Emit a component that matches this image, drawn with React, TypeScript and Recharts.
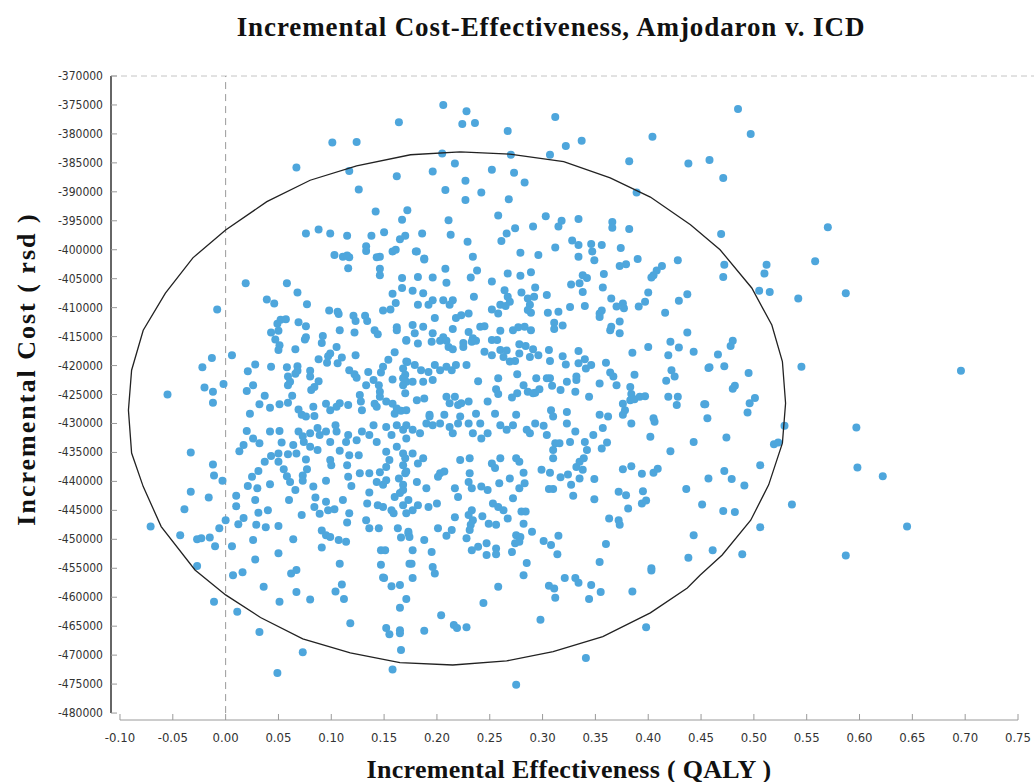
import { ScatterChart, Scatter, XAxis, YAxis, ReferenceLine } from "recharts";

// Tick labels
const qalyTicks = [
  -0.1, -0.05, 0, 0.05, 0.1, 0.15, 0.2, 0.25, 0.3, 0.35, 0.4, 0.45, 0.5, 0.55, 0.6, 0.65, 0.7, 0.75,
];
const costTicks = [
  -480000, -475000, -470000, -465000, -460000, -455000, -450000, -445000, -440000, -435000, -430000,
  -425000, -420000, -415000, -410000, -405000, -400000, -395000, -390000, -385000, -380000, -375000, -370000,
];

// [incremental QALY, incremental cost]
const upperPoints = [
  [0.164, -378000], [0.101, -381500], [0.124, -381400], [0.067, -385800], [0.117, -386400], [0.162, -387300],
  [0.126, -389600], [0.142, -393400], [0.172, -393200], [0.167, -394800], [0.076, -397200], [0.088, -396500],
  [0.099, -397200], [0.115, -397600], [0.138, -397600], [0.15, -397000], [0.165, -398200], [0.17, -397600],
  [0.133, -399400], [0.133, -400200], [0.103, -400900], [0.111, -401200], [0.115, -401000], [0.117, -401300],
  [0.146, -401200], [0.158, -400300], [0.161, -400000],
  [0.206, -375000], [0.228, -376100], [0.224, -378300], [0.236, -378100], [0.312, -377100], [0.267, -379500],
  [0.404, -380500], [0.322, -382100], [0.337, -381200], [0.307, -383600], [0.27, -383600], [0.205, -383400],
  [0.382, -384700], [0.438, -385100], [0.458, -384500], [0.389, -390100], [0.217, -385100], [0.196, -386500],
  [0.252, -386200], [0.273, -386700], [0.283, -388400], [0.227, -388100], [0.208, -389700], [0.242, -390100],
  [0.227, -391400], [0.268, -391300], [0.258, -394100], [0.303, -394200], [0.318, -395000], [0.315, -396000],
  [0.334, -394700], [0.366, -395200], [0.366, -396200], [0.382, -396400], [0.211, -394900], [0.213, -397400],
  [0.186, -397200], [0.274, -396300], [0.291, -396000], [0.266, -397200], [0.261, -398500], [0.229, -398600],
  [0.181, -400300], [0.188, -401500], [0.234, -401200], [0.279, -400500], [0.296, -400900], [0.312, -399600],
  [0.328, -398400], [0.334, -399200], [0.346, -399000], [0.347, -400300], [0.356, -399200], [0.374, -399700],
  [0.334, -401200], [0.349, -401800], [0.39, -401600], [0.428, -401800],
];

const outerRightPoints = [
  [0.485, -375700], [0.497, -380000], [0.471, -387600], [0.57, -396100], [0.469, -397300], [0.558, -402000],
  [0.472, -402600], [0.512, -402600], [0.471, -404700], [0.51, -404100], [0.505, -407100], [0.515, -407300],
  [0.542, -408400], [0.587, -407500], [0.48, -415700], [0.478, -416600], [0.466, -418100], [0.458, -420300],
  [0.472, -420100], [0.495, -421300], [0.545, -420200], [0.696, -420900], [0.482, -423500], [0.48, -424000],
  [0.501, -425600], [0.496, -426500], [0.453, -426700], [0.494, -428100], [0.456, -429100],
  [0.529, -430400], [0.597, -430700], [0.474, -432400], [0.519, -433600], [0.523, -433300], [0.506, -437200],
  [0.598, -437600], [0.622, -439100], [0.472, -438200], [0.457, -439500], [0.479, -439600], [0.491, -440700],
  [0.451, -444000], [0.471, -445100], [0.482, -445300], [0.536, -444000], [0.506, -447900], [0.645, -447800],
  [0.461, -451900], [0.489, -452600], [0.587, -452800],
];

const leftMiddlePoints = [
  [0.019, -405800], [-0.008, -410300], [0.058, -405800], [0.068, -407400], [0.039, -408600], [0.046, -409300],
  [0.077, -409400], [0.098, -410500], [0.106, -410700], [0.107, -411100], [0.121, -411400], [0.123, -412300],
  [0.132, -411400], [0.134, -412300], [0.149, -410500], [0.156, -410300], [0.161, -409200], [0.158, -407600],
  [0.167, -406600], [0.167, -404900], [0.146, -404400], [0.146, -403300], [0.143, -401300], [0.116, -403200],
  [0.052, -412100], [0.057, -412000], [0.049, -412800], [0.043, -414300], [0.05, -414000], [0.069, -412500],
  [0.076, -413200], [0.047, -415500], [0.051, -416500], [0.05, -417300], [0.066, -417200], [0.076, -415100],
  [0.075, -415500], [0.092, -414900], [0.091, -416100], [0.108, -413900], [0.122, -414300], [0.105, -416800],
  [0.099, -417900], [0.097, -418400], [0.11, -418600], [0.106, -419600], [0.088, -418900], [0.096, -419500],
  [0.123, -418200], [0.141, -413900], [0.144, -414600], [0.162, -413400], [0.162, -413900], [0.16, -417700],
  [0.154, -419000], [0.171, -415700], [0.172, -419400],
  [0.006, -418200], [-0.013, -418700], [-0.022, -420300], [0.028, -419800], [0.021, -421000], [0.043, -420200],
  [0.058, -420300], [0.068, -420100], [0.068, -420900], [0.066, -421400], [0.059, -421900], [0.061, -422800],
  [0.059, -423400], [0.08, -420900], [0.08, -421900], [0.088, -422700], [0.084, -423700], [0.081, -424200],
  [0.117, -420800], [0.122, -421500], [0.124, -422100], [0.135, -421100], [0.14, -422500], [0.149, -420200],
  [0.147, -421200], [0.158, -422400], [0.168, -420500], [0.17, -421600], [0.171, -422800], [0.168, -423400],
  [0.133, -423400], [0.145, -423400], [0.146, -424500], [0.146, -425400], [0.127, -425100], [0.128, -426200],
  [-0.02, -423800], [-0.012, -424500], [-0.012, -426400], [-0.002, -423200], [-0.055, -425000], [0.02, -424400],
  [0.026, -423400], [0.037, -425200], [0.032, -426700], [0.042, -427300], [0.051, -426700], [0.059, -426400],
  [0.063, -425200], [0.023, -428300], [0.069, -427600], [0.072, -428500], [0.076, -428800], [0.083, -427100],
  [0.084, -428700], [0.095, -426600], [0.099, -427700], [0.105, -427100], [0.108, -426500], [0.116, -426800],
  [0.129, -427700], [0.141, -426600], [0.143, -427100], [0.152, -426200], [0.158, -426600], [0.162, -427400],
  [0.16, -428300], [0.166, -427800],
];

const centerPoints = [
  [0.18, -400300], [0.188, -401700], [0.238, -403600], [0.232, -404800], [0.208, -403300], [0.209, -405700],
  [0.182, -404700], [0.196, -404800], [0.267, -404100], [0.279, -404500], [0.289, -403900], [0.252, -405500],
  [0.373, -402800], [0.379, -402500], [0.358, -404200], [0.338, -404400], [0.342, -404900], [0.335, -405800],
  [0.327, -406000], [0.413, -402800], [0.408, -403600], [0.405, -404400], [0.403, -404800], [0.357, -406500],
  [0.338, -407300], [0.293, -406500], [0.292, -408100], [0.286, -408400], [0.28, -407400], [0.264, -407000],
  [0.267, -408100], [0.269, -409000], [0.252, -410300], [0.26, -409500], [0.258, -411000], [0.265, -409700],
  [0.288, -409500], [0.289, -410900], [0.286, -410400], [0.304, -407800], [0.305, -410900], [0.315, -410700],
  [0.326, -409900], [0.34, -409700], [0.354, -411000], [0.356, -410500], [0.354, -411600], [0.365, -408400],
  [0.37, -409800], [0.376, -409300], [0.377, -410100], [0.391, -409800], [0.397, -409000], [0.4, -407400],
  [0.416, -410900], [0.429, -408800], [0.437, -407700], [0.437, -414300], [0.421, -415900], [0.429, -416900],
  [0.443, -417600], [0.419, -418200], [0.422, -420800], [0.425, -421900], [0.417, -422600], [0.4, -416800],
  [0.385, -417800], [0.364, -413900], [0.373, -414400], [0.373, -412400], [0.365, -413300], [0.311, -412600],
  [0.319, -413100], [0.311, -413700],
  [0.307, -419200], [0.319, -418400], [0.322, -419800], [0.334, -417500], [0.34, -418900], [0.334, -419600],
  [0.341, -420500], [0.346, -419900], [0.36, -419500], [0.364, -421200], [0.367, -421900], [0.37, -423400],
  [0.387, -421600], [0.383, -423700], [0.384, -424900], [0.383, -426000], [0.387, -425800], [0.392, -425400],
  [0.397, -425300], [0.376, -426600], [0.378, -427700], [0.376, -428500], [0.419, -425400], [0.428, -425400],
  [0.427, -426800], [0.454, -426700], [0.457, -420400], [0.354, -423100], [0.344, -425400], [0.332, -422500],
  [0.331, -424500], [0.332, -421900], [0.323, -422800], [0.317, -424200], [0.307, -422200], [0.309, -423500],
  [0.304, -422200], [0.294, -422200], [0.297, -424100], [0.293, -424700], [0.306, -417300], [0.296, -418200],
  [0.291, -417200],
  [0.278, -416300], [0.284, -416600], [0.278, -417900], [0.288, -418500], [0.274, -419200], [0.276, -421500],
  [0.282, -423400], [0.286, -424500], [0.276, -424800], [0.271, -425500], [0.291, -424800], [0.258, -422200],
  [0.256, -424100], [0.258, -424900], [0.248, -426200], [0.237, -428300], [0.239, -422700], [0.245, -417600],
  [0.252, -418200], [0.26, -417300], [0.266, -417400], [0.263, -418500], [0.269, -419300], [0.252, -415600],
  [0.257, -415600], [0.241, -413300], [0.245, -413200], [0.234, -415300], [0.225, -416800], [0.23, -414200],
  [0.215, -413700], [0.218, -411800], [0.223, -411300], [0.23, -411000], [0.237, -415700], [0.233, -415900],
  [0.198, -411800], [0.196, -414400], [0.206, -415100], [0.203, -415700], [0.209, -415700], [0.211, -416800],
  [0.215, -417200], [0.225, -416100], [0.177, -413000], [0.187, -413300], [0.179, -414400], [0.171, -415600],
  [0.182, -416200], [0.195, -415900], [0.177, -407100], [0.187, -407500], [0.196, -408700], [0.192, -409500],
  [0.182, -409500], [0.206, -408700], [0.215, -408700], [0.212, -409500], [0.235, -408100],
  [0.171, -419300], [0.179, -419900], [0.185, -420800], [0.192, -421100], [0.198, -419900], [0.203, -420800],
  [0.209, -420200], [0.214, -420800], [0.218, -419900], [0.228, -419900], [0.168, -422200], [0.177, -422800],
  [0.187, -422800], [0.196, -422500], [0.17, -424800], [0.181, -426000], [0.188, -425700], [0.209, -425400],
  [0.212, -426500], [0.217, -425400], [0.223, -426500], [0.23, -426200], [0.22, -426800], [0.171, -427700],
  [0.193, -428500], [0.207, -428500], [0.222, -428800], [0.255, -428300], [0.275, -428500], [0.308, -427700],
  [0.31, -428800], [0.354, -428500], [0.362, -428800], [0.405, -429100], [0.26, -414000], [0.272, -413900],
  [0.277, -413400], [0.283, -413300], [0.289, -413900],
];

const leftLowerPoints = [
  [-0.033, -435000], [-0.012, -437100], [-0.011, -439000], [-0.003, -439900], [-0.033, -441800], [-0.016, -442800],
  [-0.039, -444800], [-0.071, -447800], [-0.043, -449300], [-0.027, -450000], [-0.023, -449800], [-0.015, -449700],
  [-0.01, -451200], [-0.006, -448100], [0.0, -446700], [0.006, -451200], [-0.027, -454600], [0.007, -456200],
  [0.016, -455700],
  [0.02, -431300], [0.026, -432600], [0.032, -433400], [0.013, -434800], [0.017, -433700], [0.042, -431400],
  [0.051, -431300], [0.053, -433300], [0.064, -433700], [0.073, -432200], [0.08, -431700], [0.074, -433200],
  [0.037, -436600], [0.043, -435600], [0.05, -435200], [0.05, -436600], [0.059, -435300], [0.067, -435200],
  [0.076, -436200], [0.031, -438200], [0.025, -439200], [0.021, -440800], [0.03, -441200], [0.055, -437900],
  [0.058, -439100], [0.061, -440100], [0.066, -441500], [0.073, -439000], [0.073, -439900], [0.077, -437900],
  [0.042, -440500], [0.06, -443200], [0.083, -440900], [0.01, -442500], [0.01, -444300], [0.028, -443200],
  [0.031, -445400], [0.04, -445000], [0.05, -447700], [0.038, -447900], [0.029, -447500], [0.012, -447400],
  [0.017, -446300], [0.026, -450100], [0.028, -453500], [0.05, -452400], [0.064, -450000], [0.062, -455900],
  [0.067, -455300],
  [0.084, -444400], [0.089, -445600], [0.072, -445800], [0.095, -439900], [0.095, -443500], [0.097, -445000],
  [0.103, -444800], [0.091, -448500], [0.095, -449300], [0.099, -449600], [0.107, -450100], [0.114, -450400],
  [0.091, -451400], [0.108, -454200], [0.085, -442800], [0.111, -443200], [0.117, -445500], [0.115, -447100],
  [0.133, -446700], [0.145, -448100], [0.136, -448100], [0.147, -451900], [0.151, -451900], [0.147, -454400],
  [0.149, -456600], [0.166, -449700], [0.173, -449000], [0.174, -454200], [0.136, -441900], [0.134, -443800],
  [0.144, -444100], [0.149, -444400], [0.159, -445500], [0.163, -448100], [0.157, -445000], [0.16, -442700],
  [0.168, -440600], [0.165, -442000], [0.168, -444100], [0.149, -440600], [0.152, -439800], [0.152, -437500],
  [0.146, -438400], [0.155, -436300], [0.164, -439500], [0.168, -437200], [0.17, -438600],
  [0.069, -431400], [0.087, -430800], [0.089, -432000], [0.095, -431400], [0.099, -433200], [0.104, -430300],
  [0.105, -431400], [0.114, -433200], [0.116, -432000], [0.124, -432900], [0.129, -431400], [0.136, -432000],
  [0.14, -430300], [0.143, -433200], [0.152, -430600], [0.157, -432000], [0.162, -430300], [0.168, -431100],
  [0.171, -432600], [0.08, -434000], [0.087, -434600], [0.108, -434700], [0.117, -435500], [0.126, -435500],
  [0.152, -434900], [0.162, -434000], [0.168, -435200], [0.099, -436300], [0.1, -437200], [0.115, -437200],
  [0.116, -439200], [0.127, -438600], [0.136, -438600], [0.143, -440100], [0.119, -440800],
];

const lowerPoints = [
  [0.193, -428800], [0.293, -430000], [0.323, -428000], [0.384, -430000], [0.406, -429700], [0.171, -430300],
  [0.177, -431100], [0.184, -431700], [0.19, -430000], [0.196, -430300], [0.203, -430000], [0.212, -430600],
  [0.215, -431700], [0.22, -430000], [0.23, -430000], [0.234, -431700], [0.241, -430000], [0.242, -432600],
  [0.248, -431700], [0.26, -430300], [0.266, -431100], [0.272, -430300], [0.285, -431100], [0.288, -431700],
  [0.301, -430400], [0.304, -432000], [0.312, -433400], [0.316, -433400], [0.323, -430000], [0.326, -433200],
  [0.331, -431400], [0.34, -433200], [0.342, -434600], [0.348, -432000], [0.357, -430800], [0.356, -434300],
  [0.361, -433300], [0.402, -432300], [0.421, -434800], [0.443, -433200], [0.376, -437900], [0.384, -437400],
  [0.394, -438700], [0.405, -438500], [0.409, -437800], [0.372, -441800], [0.379, -442400], [0.395, -441700],
  [0.394, -443800], [0.398, -443300], [0.381, -444700], [0.436, -441300], [0.363, -446400], [0.372, -446700],
  [0.373, -447500], [0.36, -450800], [0.354, -453900], [0.403, -455000], [0.403, -455400], [0.443, -449300],
  [0.438, -453200], [0.327, -440600], [0.329, -442500], [0.335, -439500], [0.349, -439600], [0.349, -443100],
  [0.299, -438000], [0.307, -438500], [0.317, -439300], [0.324, -438800], [0.332, -437500], [0.338, -438000],
  [0.335, -436600], [0.339, -436000], [0.31, -434600], [0.31, -436000], [0.306, -441300], [0.31, -441300],
  [0.301, -450300], [0.308, -451000], [0.315, -449400], [0.314, -452600], [0.321, -456700], [0.331, -456700],
  [0.282, -456200], [0.285, -454100],
  [0.17, -436000], [0.177, -435200], [0.182, -436900], [0.187, -436000], [0.171, -438300], [0.181, -440100],
  [0.19, -441200], [0.168, -441500], [0.173, -443200], [0.182, -444100], [0.192, -444400], [0.2, -443800],
  [0.177, -445000], [0.171, -445500], [0.203, -438600], [0.207, -438300], [0.201, -439200], [0.222, -436300],
  [0.231, -436000], [0.217, -441200], [0.22, -442700], [0.231, -438600], [0.23, -440100], [0.233, -441200],
  [0.242, -440900], [0.248, -441500], [0.252, -436900], [0.255, -437700], [0.26, -436000], [0.269, -439500],
  [0.275, -436000], [0.278, -436600], [0.282, -438500], [0.283, -440300], [0.278, -441200], [0.272, -442900],
  [0.259, -440300], [0.253, -443800], [0.258, -444400], [0.263, -445000], [0.267, -446400], [0.233, -445000],
  [0.23, -445800], [0.234, -446700], [0.232, -447500], [0.231, -448400], [0.217, -446200], [0.243, -446000],
  [0.249, -447300], [0.256, -447500], [0.28, -445200], [0.284, -445200], [0.282, -447300], [0.275, -449300],
  [0.279, -449600], [0.29, -448700],
  [0.201, -448100], [0.214, -448400], [0.209, -449400], [0.228, -449800], [0.233, -451900], [0.239, -451300],
  [0.247, -450700], [0.247, -452700], [0.256, -451600], [0.256, -452600], [0.271, -452200], [0.274, -450700],
  [0.278, -450400], [0.188, -450100], [0.195, -452200], [0.177, -451900], [0.176, -454200], [0.196, -454800],
  [0.198, -455900], [0.177, -456700], [0.173, -448700], [0.174, -449600],
];

const bottomPoints = [
  [-0.011, -460800], [0.011, -462500], [0.036, -458200], [0.032, -466000], [0.051, -460800], [0.067, -459100],
  [0.08, -460400], [0.073, -469500], [0.049, -473100], [0.104, -459000], [0.11, -457800], [0.112, -460300],
  [0.118, -464500], [0.15, -456700], [0.157, -458100], [0.165, -457900], [0.171, -460300], [0.165, -461800],
  [0.152, -465300], [0.155, -466400], [0.165, -465700], [0.165, -466200], [0.166, -469100], [0.158, -472500],
  [0.188, -465800], [0.204, -463100], [0.216, -464800], [0.219, -465300], [0.228, -465200], [0.244, -461000],
  [0.258, -458200], [0.275, -475100], [0.298, -463900], [0.306, -458000], [0.311, -458500], [0.312, -460100],
  [0.334, -457500], [0.346, -457900], [0.344, -460300], [0.355, -459100], [0.341, -470500], [0.385, -459000],
  [0.398, -465200],
];

// confidence ellipse vertices
const ellipsePoints = [
  [0.222, -383100], [0.269, -383500], [0.32, -384800], [0.364, -387600], [0.402, -390900], [0.44, -395700],
  [0.468, -400000], [0.498, -406600], [0.517, -413000], [0.527, -419300], [0.53, -426500], [0.527, -433400],
  [0.514, -440600], [0.497, -446700], [0.47, -452700], [0.449, -456200], [0.437, -458400], [0.402, -462700],
  [0.357, -466800], [0.31, -469400], [0.266, -471000], [0.215, -471700], [0.165, -471300], [0.118, -469600],
  [0.073, -467200], [0.033, -463500], [0.0, -459600], [-0.029, -455300], [-0.061, -447800], [-0.078, -440900],
  [-0.089, -435100], [-0.092, -427700], [-0.089, -420800], [-0.078, -413900], [-0.057, -407500], [-0.031, -401400],
  [0.0, -396600], [0.039, -391700], [0.08, -388000], [0.124, -385500], [0.175, -383600], [0.222, -383100],
];

const toRows = (list: number[][]) => list.map(([qaly, cost]) => ({ qaly, cost }));

const scatterRows = toRows([
  ...upperPoints,
  ...outerRightPoints,
  ...leftMiddlePoints,
  ...centerPoints,
  ...leftLowerPoints,
  ...lowerPoints,
  ...bottomPoints,
]);
const ellipseRows = toRows(ellipsePoints);

const xMin = -0.1085;
const yMin = -481200;
const tickFont = "'Liberation Sans Narrow', 'DejaVu Sans Condensed', 'Liberation Sans', sans-serif";
const labelFont = "'Liberation Serif', 'DejaVu Serif', serif";

function CostTick({ x, y, payload }: any) {
  return (
    <g>
      <line x1={x + 8} x2={x + 14} y1={y} y2={y} stroke="#9a9a9a" />
      <text x={x} y={y} dy={4} textAnchor="end" fontSize={12} fill="#333" fontFamily={tickFont}>
        {payload.value}
      </text>
    </g>
  );
}

function QalyTick({ x, y, payload }: any) {
  return (
    <g>
      <line x1={x} x2={x} y1={y - 8} y2={y - 14} stroke="#9a9a9a" />
      <text x={x} y={y} dy={14} textAnchor="middle" fontSize={13} fill="#333" fontFamily={tickFont}>
        {payload.value.toFixed(2)}
      </text>
    </g>
  );
}

const Dot = (p: any) => <circle cx={p.cx} cy={p.cy} r={4} fill="#4ea6dc" />;
const NoDot = () => <g />;

export default function App() {
  return (
    <div style={{ position: "absolute", left: 0, top: 0, width: 1034, height: 782, background: "#fff" }}>
      <div
        style={{
          position: "absolute",
          left: 551,
          top: 12,
          transform: "translateX(-50%)",
          whiteSpace: "nowrap",
          fontFamily: labelFont,
          fontWeight: "bold",
          fontSize: 27,
          letterSpacing: 0.9,
          lineHeight: "30px",
          color: "#111",
        }}
      >
        Incremental Cost-Effectiveness, Amjodaron v. ICD
      </div>
      <div
        style={{
          position: "absolute",
          left: 27,
          top: 369,
          transform: "translate(-50%, -50%) rotate(-90deg)",
          whiteSpace: "nowrap",
          fontFamily: labelFont,
          fontWeight: "bold",
          fontSize: 26,
          letterSpacing: 2,
          lineHeight: "30px",
          color: "#111",
        }}
      >
        Incremental Cost ( rsd )
      </div>
      <div
        style={{
          position: "absolute",
          left: 569,
          top: 755,
          transform: "translateX(-50%)",
          whiteSpace: "nowrap",
          fontFamily: labelFont,
          fontWeight: "bold",
          fontSize: 26,
          letterSpacing: 0.3,
          lineHeight: "30px",
          color: "#111",
        }}
      >
        Incremental Effectiveness ( QALY )
      </div>
      <ScatterChart width={1034} height={782} margin={{ top: 76, right: 16, bottom: 0, left: 0 }}>
        <XAxis
          type="number"
          dataKey="qaly"
          domain={[xMin, 0.75]}
          ticks={qalyTicks}
          allowDataOverflow
          height={62}
          axisLine={false}
          tickLine={false}
          tick={<QalyTick />}
          interval={0}
        />
        <YAxis
          type="number"
          dataKey="cost"
          domain={[yMin, -370000]}
          ticks={costTicks}
          allowDataOverflow
          width={111}
          axisLine={false}
          tickLine={false}
          tick={<CostTick />}
          interval={0}
        />
        <ReferenceLine
          segment={[{ x: xMin, y: -370000 }, { x: 0.766, y: -370000 }]}
          stroke="#c4c4c4"
          strokeDasharray="6 4"
          ifOverflow="visible"
        />
        <ReferenceLine
          segment={[{ x: 0, y: -480000 }, { x: 0, y: -370000 }]}
          stroke="#9a9a9a"
          strokeDasharray="7 5"
        />
        <ReferenceLine
          segment={[{ x: xMin, y: -480000 }, { x: xMin, y: -370000 }]}
          stroke="#333"
          strokeWidth={1.5}
          ifOverflow="visible"
        />
        <ReferenceLine
          segment={[{ x: -0.1, y: yMin }, { x: 0.75, y: yMin }]}
          stroke="#9a9a9a"
          ifOverflow="visible"
        />
        <Scatter data={scatterRows} shape={Dot} isAnimationActive={false} />
        <Scatter
          data={ellipseRows}
          shape={NoDot}
          line={{ stroke: "#222", strokeWidth: 1.3 }}
          isAnimationActive={false}
        />
      </ScatterChart>
    </div>
  );
}
